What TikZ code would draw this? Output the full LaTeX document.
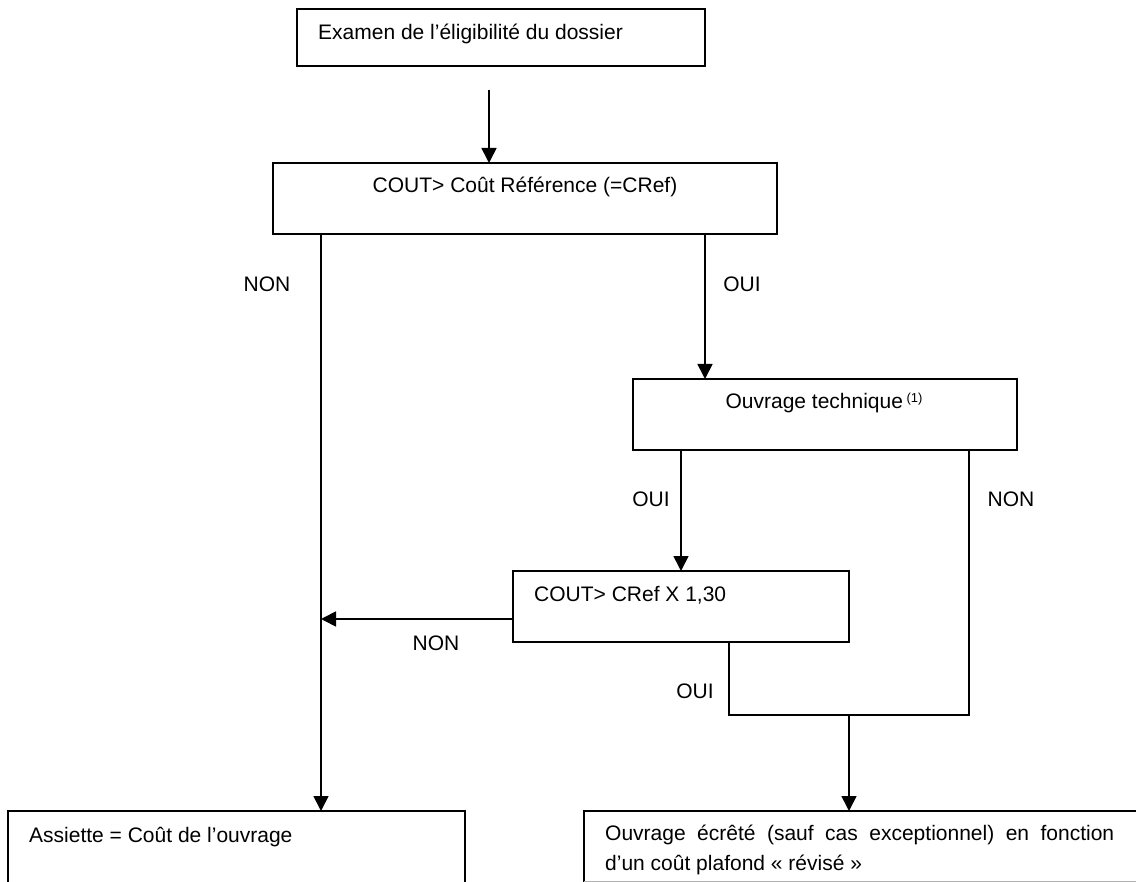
\documentclass[tikz,border=0pt]{standalone}
\usepackage{fontspec}
\setmainfont{Liberation Sans}
\usetikzlibrary{arrows.meta}
\begin{document}
\begin{tikzpicture}[x=1pt,y=-1pt,
  box/.style={draw, line width=1.4pt, inner sep=0pt, outer sep=0pt, anchor=north west},
  conn/.style={line width=1.7pt},
  arr/.style={conn, -{Triangle[length=15pt,width=15pt]}},
  txt/.style={font=\fontsize{21}{25}\selectfont, inner sep=0pt}]
\useasboundingbox (0,0) rectangle (1136,882);
% boxes
\node[box, minimum width=408pt, minimum height=57pt] (b1) at (297,9) {};
\node[box, minimum width=504pt, minimum height=71pt] (b2) at (273,163) {};
\node[box, minimum width=384pt, minimum height=71pt] (b3) at (633,379) {};
\node[box, minimum width=336pt, minimum height=71pt] (b4) at (513,571) {};
\node[box, minimum width=457pt, minimum height=90pt] (b5) at (8,811) {};
\node[box, minimum width=570pt, minimum height=90pt] (b6) at (584,811) {};
\draw[gray!60, line width=1pt] (b6.west |- 0,881) -- (1136,881);
% texts
\node[txt, anchor=west] (t1) at (318,34) {Examen de l’éligibilité du dossier};
\node[txt] (t2) at (525,187) {COUT> Coût Référence (=CRef)};
\node[txt] (t3) at (824,403) {Ouvrage technique\,\raisebox{0.55ex}{\fontsize{13}{13}\selectfont(1)}};
\node[txt, anchor=west] (t4) at (534,595) {COUT> CRef X 1,30};
\node[txt, anchor=west] (t5) at (29,837) {Assiette = Coût de l’ouvrage};
\node[txt, anchor=west] (t6a) at (605,835) {\makebox[509pt][s]{Ouvrage écrêté (sauf cas exceptionnel) en fonction}};
\node[txt, anchor=west] (t6b) at (605,865) {d’un coût plafond « révisé »};
% labels
\node[txt] (l1) at (267,284) {NON};
\node[txt] (l2) at (742,284) {OUI};
\node[txt] (l3) at (651,499) {OUI};
\node[txt] (l4) at (1011,499) {NON};
\node[txt] (l5) at (436,643) {NON};
\node[txt] (l6) at (695,691) {OUI};
% helper coordinates
\coordinate (s1) at (489,90);
\coordinate (xl) at (321,0);
\coordinate (xo) at (705,0);
\coordinate (x3) at (681,0);
\coordinate (x3n) at (969,0);
\coordinate (x4) at (729,0);
\coordinate (xm) at (849,0);
\coordinate (yj) at (0,715);
\coordinate (ya) at (0,619);
% connectors
\draw[arr] (s1) -- (s1 |- b2.north);
\draw[arr] (b2.south -| xl) -- (b5.north -| xl);
\draw[arr] (b2.south -| xo) -- (b3.north -| xo);
\draw[arr] (b3.south -| x3) -- (b4.north -| x3);
\draw[arr] (b4.west |- ya) -- (xl |- ya);
\draw[conn] (b3.south -| x3n) -- (x3n |- yj) -- (x4 |- yj) -- (b4.south -| x4);
\draw[arr] (xm |- yj) -- (b6.north -| xm);
\end{tikzpicture}
\end{document}
